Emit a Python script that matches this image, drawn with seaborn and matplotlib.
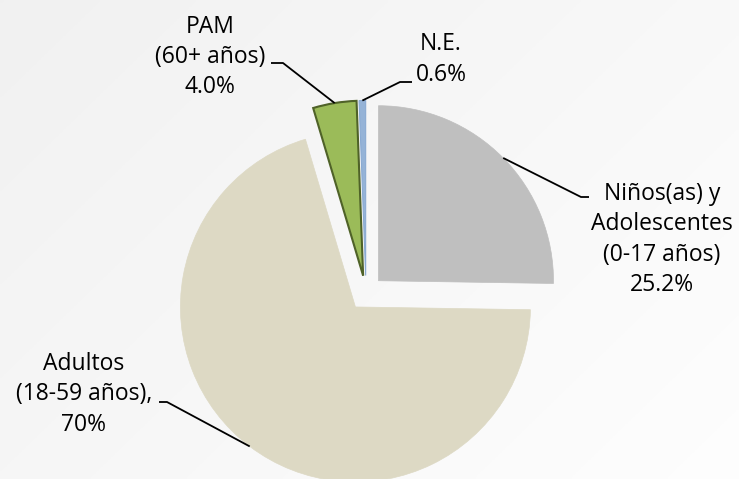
import numpy as np
import matplotlib
matplotlib.use("Agg")
import matplotlib.pyplot as plt
import seaborn as sns

# ---- data ----
categories = ["Niños(as) y\nAdolescentes\n(0-17 años)", "Adultos\n(18-59 años),", "PAM\n(60+ años)", "N.E."]
values = [25.2, 70.0, 4.0, 0.6]
value_labels = ["25.2%", "70%", "4.0%", "0.6%"]

# ---- style ----
colors = ["#bfbfbf", "#ddd9c4", "#9bbb59", "#95b3d7"]
edgecolors = ["#bfbfbf", "#ddd9c4", "#4f6228", "#8aaad2"]
edgewidths = [0.5, 0.5, 1.5, 0.8]

sns.set_theme(style="white")
plt.rcParams['font.family'] = ['Open Sans', 'DejaVu Sans']

W, H = 739, 479
fig = plt.figure(figsize=(W / 100, H / 100), dpi=100)

# background gradient
bg = fig.add_axes([0, 0, 1, 1])
gx, gy = np.meshgrid(np.linspace(0, 1, 200), np.linspace(0, 1, 200))
shade = 0.945 + 0.05 * (0.6 * gx + 0.4 * gy)
bg.imshow(np.dstack([shade] * 3), extent=[0, 1, 0, 1], aspect="auto", origin="upper")
bg.axis("off")

ax = fig.add_axes([0, 0, 1, 1])
ax.patch.set_alpha(0)
R = 175
center = (366, 186)
wedges, _ = ax.pie(values, colors=colors, startangle=90, counterclock=False,
                   explode=[0.1 * R] * len(values), center=center, radius=R)
for w, ec, lw in zip(wedges, edgecolors, edgewidths):
    w.set_edgecolor(ec)
    w.set_linewidth(lw)
ax.set_xlim(0, W)
ax.set_ylim(0, H)
ax.set_aspect("equal")
ax.axis("off")

# label layout: text center, elbow, line end near text
layout = [
    dict(text=(662, 239.5), elbow=(581, 282), end=(589, 282)),
    dict(text=(84, 84.5), elbow=(167, 77), end=(159, 77)),
    dict(text=(210, 422), elbow=(283, 416), end=(271, 416)),
    dict(text=(441, 419.5), elbow=(400, 397), end=(412, 397)),
]

for w, cat, vl, lay in zip(wedges, categories, value_labels, layout):
    tm = np.deg2rad(0.5 * (w.theta1 + w.theta2))
    cx, cy = w.center
    px, py = cx + w.r * np.cos(tm), cy + w.r * np.sin(tm)
    ex, ey = lay["elbow"]
    fx, fy = lay["end"]
    ax.plot([px, ex, fx], [py, ey, fy], color="black", lw=1.3,
            solid_capstyle="butt", zorder=5)
    ax.text(lay["text"][0], lay["text"][1], cat + "\n" + vl, ha="center", va="center",
            fontsize=16.5, color="black", linespacing=1.36, zorder=6)

fig.savefig("out.png", dpi=100)
